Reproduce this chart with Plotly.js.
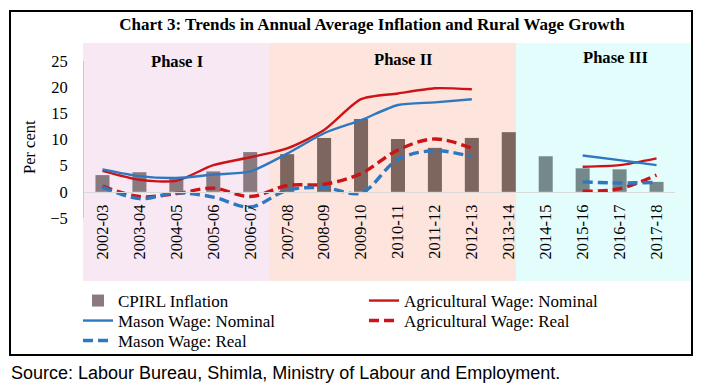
<!DOCTYPE html>
<html>
<head>
<meta charset="utf-8">
<script src="https://cdn.plot.ly/plotly-3.0.1.min.js"></script>
<style>html,body{margin:0;padding:0;background:#fff;}#chart{width:703px;height:388px;}</style>
</head>
<body>
<div id="chart"></div>
<script>
// ---- data ----
const categories = ['2002-03','2003-04','2004-05','2005-06','2006-07','2007-08','2008-09','2009-10',
  '2010-11','2011-12','2012-13','2013-14','2014-15','2015-16','2016-17','2017-18'];
const cpirlInflation = [3.2, 3.75, 2.5, 3.9, 7.6, 7.2, 10.3, 13.9, 10.1, 8.4, 10.3, 11.4, 6.8, 4.5, 4.3, 1.9];
const agriNominal = [4.0, 2.3, 2.1, 5.1, 6.6, 8.3, 11.8, 17.7, 18.8, 19.8, 19.6, null, null, 4.8, 5.1, 6.4];
const masonNominal = [4.3, 3.0, 2.65, 3.3, 3.9, 7.3, 11.2, 13.7, 16.6, 17.1, 17.7, null, null, 6.95, 6.05, 5.1];
const agriReal = [1.1, -0.9, -0.35, 0.7, -0.9, 1.2, 1.45, 3.5, 8.0, 10.1, 8.3, null, null, 0.1, 0.6, 3.2];
const masonReal = [0.9, -1.3, -0.2, -1.0, -2.9, 0.3, 0.8, -0.2, 6.2, 7.85, 6.7, null, null, 1.9, 1.7, 1.8];
const phaseLabels = ['Phase I', 'Phase II', 'Phase III'];
const seriesNames = ['CPIRL Inflation', 'Agricultural Wage: Nominal', 'Mason Wage: Nominal',
  'Agricultural Wage: Real', 'Mason Wage: Real'];
const titleText = 'Chart 3: Trends in Annual Average Inflation and Rural Wage Growth';
const yTitle = 'Per cent';
const sourceText = 'Source: Labour Bureau, Shimla, Ministry of Labour and Employment.';

// ---- layout geometry (pixels) ----
const W = 703, H = 388;
const M = {l: 84, r: 28, t: 61, b: 170};
const PW = W - M.l - M.r, PH = H - M.t - M.b;
const px = x => (x - M.l) / PW;
const py = y => (H - M.b - y) / PH;

const serif = 'Liberation Serif, Times New Roman, serif';
const RED = '#cc1418';
const BLUE = '#2e78c0';

// bar colours per phase (bars look tinted by the phase backgrounds)
const barColors = categories.map((c, i) => i < 5 ? '#8a7a80' : (i < 12 ? '#7d6560' : '#76898a'));

const traces = [
  {type: 'bar', name: seriesNames[0], x: categories, y: cpirlInflation,
   marker: {color: barColors}, legend: 'legend'},
  {type: 'scatter', mode: 'lines', name: seriesNames[1], x: categories, y: agriNominal,
   line: {color: RED, width: 2.4, shape: 'spline', smoothing: 0.7}, connectgaps: false, legend: 'legend'},
  {type: 'scatter', mode: 'lines', name: seriesNames[2], x: categories, y: masonNominal,
   line: {color: BLUE, width: 2.4, shape: 'spline', smoothing: 0.7}, connectgaps: false, legend: 'legend2'},
  {type: 'scatter', mode: 'lines', name: seriesNames[3], x: categories, y: agriReal,
   line: {color: RED, width: 3.4, dash: '10px,5px', shape: 'spline', smoothing: 1}, connectgaps: false, legend: 'legend2'},
  {type: 'scatter', mode: 'lines', name: seriesNames[4], x: categories, y: masonReal,
   line: {color: BLUE, width: 3.4, dash: '10px,5px', shape: 'spline', smoothing: 1}, connectgaps: false, legend: 'legend3'}
];

const bg = (x0, x1, color) => ({type: 'rect', xref: 'paper', yref: 'paper', layer: 'below',
  x0: px(x0), x1: px(x1), y0: py(281), y1: py(43), fillcolor: color, line: {width: 0}});

const legendRow = yc => ({orientation: 'h', x: px(78), xanchor: 'left', y: py(yc), yanchor: 'middle',
  entrywidth: 241, entrywidthmode: 'pixels', traceorder: 'normal',
  font: {family: serif, size: 17, color: '#000'}, bgcolor: 'rgba(0,0,0,0)'});

const layout = {
  width: W, height: H,
  margin: {l: M.l, r: M.r, t: M.t, b: M.b, autoexpand: false},
  paper_bgcolor: '#ffffff', plot_bgcolor: 'rgba(0,0,0,0)',
  font: {family: serif, size: 16, color: '#000'},
  showlegend: true,
  bargap: 0.62,
  title: {text: '<b>' + titleText + '</b>', x: 372 / W, xanchor: 'center', xref: 'container',
    y: 1 - 24 / H, yanchor: 'middle', yref: 'container',
    font: {family: serif, size: 17, color: '#000'}},
  xaxis: {type: 'category', anchor: 'free', position: 5 / 30,
    showline: true, linecolor: '#d9d9d9', linewidth: 1, showgrid: false, zeroline: false,
    ticks: '', tickangle: -90, ticklabelstandoff: 5,
    tickfont: {family: serif, size: 16.5, color: '#000'}},
  yaxis: {range: [-5, 25], dtick: 5, tick0: 0, showgrid: false, zeroline: false,
    showline: true, linecolor: '#c8c8c8', linewidth: 1, ticks: '', ticklabelstandoff: 12,
    tickfont: {family: serif, size: 16.5, color: '#000'}},
  legend: legendRow(301),
  legend2: legendRow(321),
  legend3: legendRow(341),
  shapes: [
    bg(83, 269, '#f7e8f4'),
    bg(269, 516, '#fde4dc'),
    bg(516, 691, '#e3fdfd'),
    {type: 'rect', xref: 'paper', yref: 'paper', layer: 'above',
     x0: px(10), x1: px(692), y0: py(355), y1: py(11),
     line: {color: '#000', width: 2}, fillcolor: 'rgba(0,0,0,0)'}
  ],
  annotations: [
    {text: '<b>' + phaseLabels[0] + '</b>', xref: 'paper', yref: 'paper', x: px(177), y: py(61),
     xanchor: 'center', yanchor: 'middle', showarrow: false, font: {family: serif, size: 16.6}},
    {text: '<b>' + phaseLabels[1] + '</b>', xref: 'paper', yref: 'paper', x: px(403), y: py(59),
     xanchor: 'center', yanchor: 'middle', showarrow: false, font: {family: serif, size: 16.6}},
    {text: '<b>' + phaseLabels[2] + '</b>', xref: 'paper', yref: 'paper', x: px(615), y: py(57),
     xanchor: 'center', yanchor: 'middle', showarrow: false, font: {family: serif, size: 16.6}},
    {text: yTitle, xref: 'paper', yref: 'paper', x: px(29), y: py(147), textangle: -90,
     xanchor: 'center', yanchor: 'middle', showarrow: false, font: {family: serif, size: 16.5}},
    {text: sourceText, xref: 'paper', yref: 'paper', x: px(9), y: py(373),
     xanchor: 'left', yanchor: 'middle', showarrow: false,
     font: {family: 'Liberation Sans, Arial, sans-serif', size: 18, color: '#000'}}
  ]
};

Plotly.newPlot('chart', traces, layout, {displayModeBar: false, staticPlot: true});
</script>
</body>
</html>
